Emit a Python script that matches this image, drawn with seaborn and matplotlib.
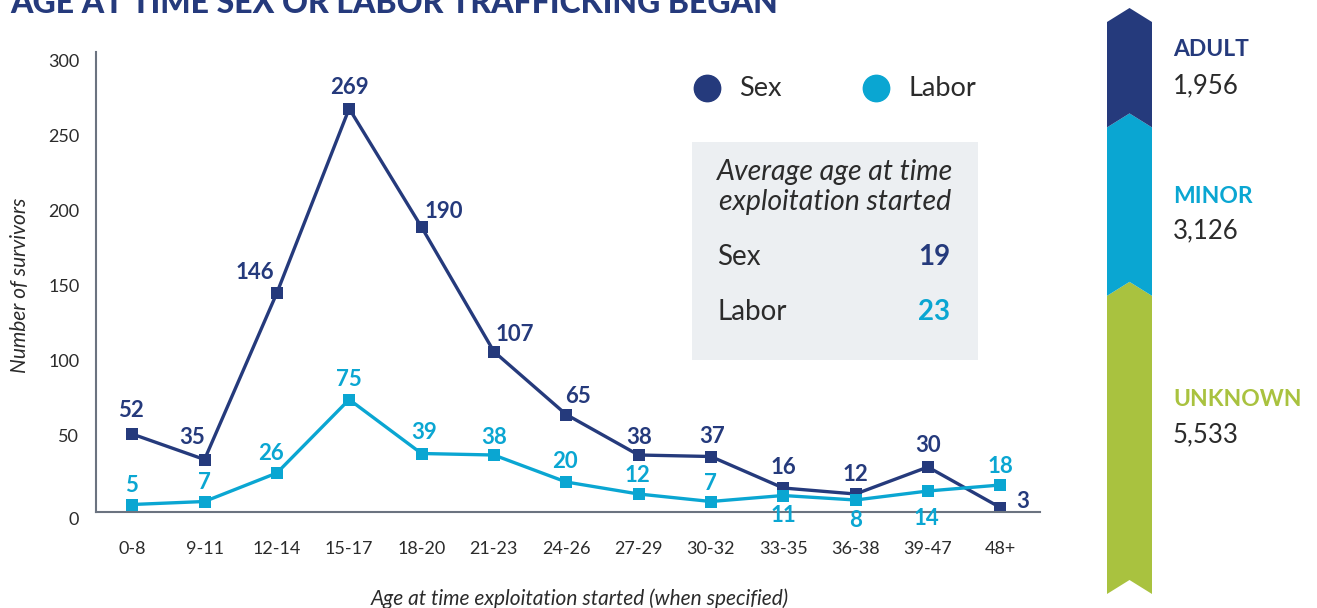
import matplotlib
matplotlib.use("Agg")
import matplotlib.pyplot as plt
from matplotlib.lines import Line2D
from matplotlib.patches import Rectangle, Polygon
import seaborn as sns
import pandas as pd

# ---------------- data ----------------
age_groups = ["0-8", "9-11", "12-14", "15-17", "18-20", "21-23", "24-26",
              "27-29", "30-32", "33-35", "36-38", "39-47", "48+"]
sex_values = [52, 35, 146, 269, 190, 107, 65, 38, 37, 16, 12, 30, 3]
labor_values = [5, 7, 26, 75, 39, 38, 20, 12, 7, 11, 8, 14, 18]
y_ticks = [0, 50, 100, 150, 200, 250, 300]
avg_age_labels = ["Sex", "Labor"]
avg_age_values = [19, 23]
status_labels = ["ADULT", "MINOR", "UNKNOWN"]
status_counts = [1956, 3126, 5533]

# ---------------- style ----------------
NAVY = "#253a7c"
CYAN = "#0aa6d2"
GREEN = "#a9c23f"
TXT = "#2b2b2b"
W, H = 1317, 608

sns.set_theme(style="white")
plt.rcParams["font.family"] = ["Lato", "DejaVu Sans"]

def fx(x):
    return x / W

def fy(y):
    return 1 - y / H

fig = plt.figure(figsize=(W / 100, H / 100), dpi=100)
ax = fig.add_axes([fx(96), fy(512), fx(1040) - fx(96), fy(52) - fy(512)])

df = pd.DataFrame({
    "idx": list(range(len(age_groups))) * 2,
    "value": sex_values + labor_values,
    "type": ["Sex"] * len(age_groups) + ["Labor"] * len(age_groups),
})
sns.lineplot(data=df, x="idx", y="value", hue="type",
             palette={"Sex": NAVY, "Labor": CYAN}, marker="s", markersize=8,
             markeredgewidth=0, linewidth=2.4, legend=False, ax=ax)

ax.set_xlim(-0.5, 12.55)
ax.set_ylim(0, 306.7)
ax.set_xticks(range(len(age_groups)))
ax.set_xticklabels(age_groups)
ax.set_yticks(y_ticks)
ax.tick_params(axis="both", length=0, labelsize=13, colors=TXT)
ax.tick_params(axis="x", pad=21)
ax.tick_params(axis="y", pad=12)
for lab in ax.get_yticklabels():
    lab.set_verticalalignment("top" if lab.get_text() == "0" else "center")
for s in ["top", "right"]:
    ax.spines[s].set_visible(False)
for s in ["left", "bottom"]:
    ax.spines[s].set_color("#6b7380")
    ax.spines[s].set_linewidth(1.5)
ax.set_xlabel("")
ax.set_ylabel("")
ax.patch.set_alpha(0)

# point labels
sex_off = [(-1, 24), (-12, 22), (-22, 21), (0, 21), (22, 16), (21, 17), (12, 18),
           (1, 18), (1, 20), (0, 21), (0, 20), (0, 22), (22, 6)]
labor_off = [(-1, 19), (0, 19), (-6, 20), (0, 20), (3, 21), (0, 18), (-1, 21),
             (-1, 19), (0, 18), (0, -20), (0, -20), (-1, -27), (0, 19)]
for i, (v, o) in enumerate(zip(sex_values, sex_off)):
    ax.annotate(str(v), (i, v), xytext=o, textcoords="offset pixels",
                ha="center", va="center", fontsize=16, fontweight="bold",
                color=NAVY, annotation_clip=False)
for i, (v, o) in enumerate(zip(labor_values, labor_off)):
    ax.annotate(str(v), (i, v), xytext=o, textcoords="offset pixels",
                ha="center", va="center", fontsize=16, fontweight="bold",
                color=CYAN, annotation_clip=False)

# axis titles
fig.text(fx(20), fy(285), "Number of survivors", rotation=90, ha="center",
         va="center", fontsize=15, style="italic", color=TXT)
fig.text(fx(580), fy(599), "Age at time exploitation started (when specified)",
         ha="center", va="center", fontsize=15, style="italic", color=TXT)

# title (cut at top like reference)
fig.text(fx(10), fy(13), "AGE AT TIME SEX OR LABOR TRAFFICKING BEGAN",
         ha="left", va="baseline", fontsize=23, fontweight="black", color=NAVY)

# legend
for x, lab, col in [(707, "Sex", NAVY), (876, "Labor", CYAN)]:
    fig.add_artist(Line2D([fx(x)], [fy(88)], marker="o", markersize=19,
                          color=col, linestyle="none", transform=fig.transFigure))
    fig.text(fx(x + 32), fy(88), lab, ha="left", va="center", fontsize=19.5, color=TXT)

# average-age box
fig.add_artist(Rectangle((fx(692), fy(360)), fx(978) - fx(692), fy(142) - fy(360),
                         transform=fig.transFigure, facecolor="#eceff2",
                         edgecolor="none", zorder=0))
fig.text(fx(835), fy(172), "Average age at time", ha="center", va="center",
         fontsize=20.5, style="italic", color=TXT)
fig.text(fx(835), fy(202), "exploitation started", ha="center", va="center",
         fontsize=20.5, style="italic", color=TXT)
for y, lab, val, col in zip([257, 312], avg_age_labels, avg_age_values, [NAVY, CYAN]):
    fig.text(fx(717), fy(y), lab, ha="left", va="center", fontsize=20, color=TXT)
    fig.text(fx(950), fy(y), str(val), ha="right", va="center", fontsize=20,
             fontweight="bold", color=col)

# status ribbon (proportional stacked segments)
total = sum(status_counts)
chev = total / 572 * 14
rax = fig.add_axes([fx(1107), fy(594), fx(1152) - fx(1107), fy(8) - fy(594)])
rax.set_xlim(0, 1)
rax.set_ylim(0, total + chev)
rax.axis("off")
seg_order = ["UNKNOWN", "MINOR", "ADULT"]
seg_cols = {"ADULT": NAVY, "MINOR": CYAN, "UNKNOWN": GREEN}
base = 0
for name in seg_order:
    c = status_counts[status_labels.index(name)]
    top = base + c
    rax.add_patch(Polygon([(0, base), (0.5, base + chev), (1, base), (1, top),
                           (0.5, top + chev), (0, top)], closed=True,
                          facecolor=seg_cols[name], edgecolor="none"))
    base = top

for name, ly, ny in zip(status_labels, [50, 196, 399], [86, 231, 435]):
    c = status_counts[status_labels.index(name)]
    fig.text(fx(1173), fy(ly), name, ha="left", va="center", fontsize=16.5,
             fontweight="bold", color=seg_cols[name])
    fig.text(fx(1173), fy(ny), f"{c:,}", ha="left", va="center", fontsize=18.5,
             color=TXT)

fig.savefig("out.png", dpi=100)
